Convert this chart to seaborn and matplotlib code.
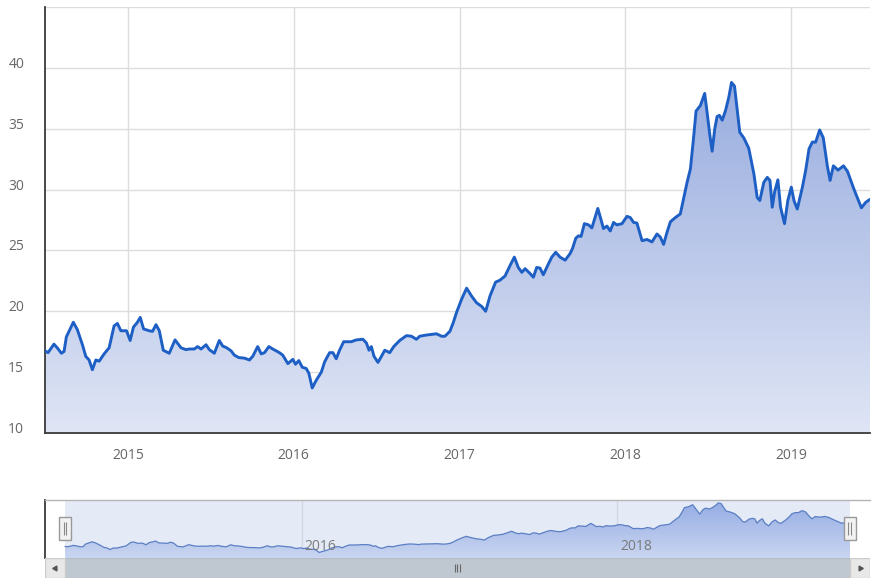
import numpy as np
import pandas as pd
import seaborn as sns
import matplotlib.pyplot as plt
import matplotlib.dates as mdates
from matplotlib.colors import to_rgb
from matplotlib.patches import Rectangle


# weekly-ish closes, x
dec_year = [
    2014.498, 2014.516, 2014.552, 2014.572, 2014.597, 2014.613, 2014.627, 2014.669, 2014.693, 2014.724,
    2014.744, 2014.764, 2014.784, 2014.805, 2014.825, 2014.855, 2014.885, 2014.915, 2014.935, 2014.956,
    2014.990,
    2015.012, 2015.032, 2015.056, 2015.073, 2015.093, 2015.127, 2015.147, 2015.168, 2015.188, 2015.212,
    2015.248, 2015.283, 2015.319, 2015.349, 2015.369, 2015.399, 2015.419, 2015.440, 2015.470, 2015.490,
    2015.520, 2015.550, 2015.570, 2015.595, 2015.621, 2015.641, 2015.667, 2015.702, 2015.732, 2015.752,
    2015.782, 2015.803, 2015.823, 2015.849, 2015.873, 2015.913, 2015.933, 2015.964, 2015.994,
    2016.010, 2016.030, 2016.051, 2016.075, 2016.091, 2016.111, 2016.136, 2016.166, 2016.186, 2016.216,
    2016.236, 2016.256, 2016.276, 2016.301, 2016.347, 2016.377, 2016.417, 2016.438, 2016.454, 2016.468,
    2016.484, 2016.508, 2016.529, 2016.549, 2016.579, 2016.603, 2016.639, 2016.680, 2016.710, 2016.740,
    2016.760, 2016.801, 2016.861, 2016.892, 2016.912, 2016.942, 2016.962, 2016.982,
    2017.013, 2017.043, 2017.073, 2017.103, 2017.134, 2017.158, 2017.184, 2017.218, 2017.244, 2017.275,
    2017.305, 2017.331, 2017.355, 2017.376, 2017.396, 2017.426, 2017.446, 2017.466, 2017.486, 2017.506,
    2017.537, 2017.557, 2017.581, 2017.607, 2017.638, 2017.668, 2017.682, 2017.702, 2017.718, 2017.734,
    2017.754, 2017.779, 2017.799, 2017.819, 2017.835, 2017.855, 2017.869, 2017.890, 2017.910, 2017.930,
    2017.950, 2017.981,
    2018.011, 2018.031, 2018.051, 2018.071, 2018.087, 2018.102, 2018.132, 2018.162, 2018.192, 2018.212,
    2018.232, 2018.253, 2018.273, 2018.303, 2018.333, 2018.353, 2018.374, 2018.394, 2018.414, 2018.428,
    2018.454, 2018.480, 2018.495, 2018.511, 2018.525, 2018.541, 2018.555, 2018.569, 2018.586, 2018.606,
    2018.626, 2018.642, 2018.660, 2018.692, 2018.716, 2018.746, 2018.777, 2018.797, 2018.813, 2018.837,
    2018.858, 2018.874, 2018.888, 2018.902, 2018.922, 2018.938, 2018.962, 2018.982,
    2019.003, 2019.019, 2019.039, 2019.070, 2019.090, 2019.110, 2019.130, 2019.150, 2019.174, 2019.196,
    2019.221, 2019.237, 2019.257, 2019.285, 2019.318, 2019.342, 2019.382, 2019.426, 2019.452, 2019.478,
]

close = [
    16.75, 16.6, 17.3, 17.0, 16.55, 16.7, 17.9, 19.1, 18.5, 17.25,
    16.3, 16.0, 15.2, 16.0, 15.9, 16.5, 17.0, 18.8, 19.0, 18.4,
    18.4,
    17.6, 18.7, 19.1, 19.5, 18.55, 18.4, 18.35, 18.9, 18.4, 16.8,
    16.55, 17.65, 17.0, 16.85, 16.9, 16.9, 17.1, 16.9, 17.25, 16.85,
    16.55, 17.6, 17.15, 17.0, 16.75, 16.4, 16.2, 16.15, 16.0, 16.3,
    17.1, 16.5, 16.6, 17.1, 16.9, 16.6, 16.4, 15.7, 16.05,
    15.65, 15.95, 15.4, 15.3, 14.9, 13.7, 14.35, 15.0, 15.85, 16.6,
    16.6, 16.1, 16.8, 17.5, 17.5, 17.65, 17.7, 17.4, 16.8, 17.1,
    16.3, 15.8, 16.3, 16.8, 16.6, 17.1, 17.6, 18.0, 17.95, 17.7,
    17.95, 18.05, 18.15, 17.95, 17.95, 18.35, 19.05, 19.9,
    21.0, 21.9, 21.25, 20.7, 20.4, 20.0, 21.25, 22.4, 22.55, 22.9,
    23.75, 24.45, 23.6, 23.2, 23.5, 23.1, 22.8, 23.6, 23.55, 23.0,
    23.9, 24.45, 24.85, 24.45, 24.2, 24.75, 25.15, 26.0, 26.2, 26.15,
    27.2, 27.1, 26.85, 27.75, 28.45, 27.5, 26.8, 27.0, 26.6, 27.3,
    27.1, 27.2,
    27.8, 27.7, 27.3, 27.25, 26.5, 25.8, 25.9, 25.7, 26.35, 26.1,
    25.5, 26.5, 27.35, 27.7, 28.0, 29.25, 30.6, 31.7, 34.4, 36.45,
    36.9, 37.9, 36.3, 34.5, 33.15, 35.0, 36.0, 36.1, 35.7, 36.5,
    37.6, 38.8, 38.5, 34.7, 34.25, 33.4, 31.3, 29.35, 29.1, 30.6,
    31.0, 30.75, 28.55, 29.8, 30.8, 28.55, 27.2, 29.1,
    30.2, 29.1, 28.4, 30.2, 31.6, 33.35, 33.9, 33.9, 34.9, 34.25,
    31.9, 30.75, 31.95, 31.6, 31.95, 31.5, 30.0, 28.5, 28.95, 29.2,
]

y_ticks = [10, 15, 20, 25, 30, 35, 40, 45]
y_labels = ["10", "15", "20", "25", "30", "35", "40", ""]
main_years = [2015, 2016, 2017, 2018, 2019]
nav_years = [2016, 2018]

LINE = "#1d5fc4"
AXIS = "#3a3a3a"
TXT = "#666666"
GRID = "#dcdcdc"

yr = np.array(dec_year)
df = pd.DataFrame({
    "date": pd.Timestamp("2015-01-01") + pd.to_timedelta((yr - 2015) * 365.25, unit="D"),
    "close": close,
})
xnum = mdates.date2num(df["date"])
d0, d1 = xnum.min(), xnum.max()

sns.set_theme(style="white")
plt.rcParams["font.family"] = ["Open Sans", "DejaVu Sans"]

W, H = 877, 584
fig = plt.figure(figsize=(W / 100, H / 100), dpi=100)


def px_axes(l, t, r, b):
    return fig.add_axes([l / W, 1 - b / H, (r - l) / W, (b - t) / H])


def gradient_fill(ax, x, y, base, top, c_top, c_bot, z=1):
    poly = ax.fill_between(x, y, base, color="none", lw=0)
    ct, cb = np.array(to_rgb(c_top)), np.array(to_rgb(c_bot))
    t = np.linspace(0, 1, 256)[:, None, None]
    img = ct * (1 - t) + cb * t
    im = ax.imshow(img, extent=[x.min(), x.max(), base, top], aspect="auto",
                   origin="upper", zorder=z, interpolation="bilinear")
    im.set_clip_path(poly.get_paths()[0], ax.transData)
    return im


#%% main chart
ax = px_axes(45, 7, 870, 433)
gradient_fill(ax, xnum, df["close"].values, 10, 45, "#8aa1da", "#dfe5f5")
sns.lineplot(data=df, x="date", y="close", ax=ax, color=LINE, lw=2.1, zorder=3)

ax.set_xlim(d0, d1)
ax.set_ylim(10, 45)
ax.set_yticks(y_ticks)
ax.set_yticklabels(y_labels)
ax.set_xticks([mdates.date2num(pd.Timestamp(f"{y}-01-01")) for y in main_years])
ax.set_xticklabels([str(y) for y in main_years])
ax.set_xlabel("")
ax.set_ylabel("")
ax.grid(True, color=GRID, lw=1)
ax.set_axisbelow(True)
for s in ["top", "right"]:
    ax.spines[s].set_visible(False)
for s in ["left", "bottom"]:
    ax.spines[s].set_color(AXIS)
    ax.spines[s].set_linewidth(1.3)
ax.tick_params(axis="y", length=10, width=1, color=AXIS, pad=5, labelsize=10, labelcolor=TXT)
ax.tick_params(axis="x", length=7, width=1, color=AXIS, pad=4, labelsize=10, labelcolor=TXT)
for t in ax.get_yticklabels():
    t.set_va("baseline")

#%% navigator
pp = (d1 - d0) / 785
nx0, nx1 = d0 - 20 * pp, d1 + 20 * pp

nav = px_axes(45, 500, 870, 558)
nav.set_xlim(nx0, nx1)
nav.set_ylim(10.9, 40.3)
nav.axvspan(d0, d1, color="#e4eaf6", zorder=0, lw=0)
for y in nav_years:
    xv = mdates.date2num(pd.Timestamp(f"{y}-01-01"))
    nav.axvline(xv, color="#d3d9e4", lw=1, zorder=0.5)
    nav.annotate(str(y), (xv, 0), xycoords=nav.get_xaxis_transform(),
                 xytext=(2, 3), textcoords="offset points",
                 ha="left", va="bottom", fontsize=10, color="#7a7a7a", zorder=4)
gradient_fill(nav, xnum, df["close"].values, 10.9, 40.3, "#93abe3", "#c9d5f1")
sns.lineplot(data=df, x="date", y="close", ax=nav, color="#5b7fc4", lw=0.9, zorder=3)
nav.set_xlim(nx0, nx1)
nav.set_xticks([])
nav.set_yticks([])
nav.set_xlabel("")
nav.set_ylabel("")
for s in ["right", "bottom"]:
    nav.spines[s].set_visible(False)
nav.spines["left"].set_color(AXIS)
nav.spines["left"].set_linewidth(1.3)
nav.spines["top"].set_color("#b5b5b5")
nav.spines["top"].set_linewidth(1)

# handles at both ends of the selected range
for xe in (d0, d1):
    nav.add_patch(Rectangle((xe - 6 * pp, 0.31), 12 * pp, 0.4,
                            transform=nav.get_xaxis_transform(),
                            fc="#f2f2f2", ec="#999999", lw=1, zorder=5, clip_on=False))
    nav.vlines([xe - 1.5 * pp, xe + 1.5 * pp], 0.4, 0.62,
               transform=nav.get_xaxis_transform(), color="#888888", lw=0.8, zorder=6)

#%% scrollbar
sb = px_axes(45, 558, 870, 578)
sb.set_xlim(nx0, nx1)
sb.set_ylim(0, 1)
sb.axis("off")
sb.add_patch(Rectangle((nx0, 0), nx1 - nx0, 1, fc="#f2f2f2", ec="#cccccc", lw=1))
sb.add_patch(Rectangle((d0, 0), d1 - d0, 1, fc="#bfc8d1", ec="#b5bcc4", lw=1))
sb.add_patch(Rectangle((nx0, 0), d0 - nx0, 1, fc="#e8e8e8", ec="#cccccc", lw=1))
sb.add_patch(Rectangle((d1, 0), nx1 - d1, 1, fc="#e8e8e8", ec="#cccccc", lw=1))
sb.plot([(nx0 + d0) / 2], [0.5], marker=(3, 0, 90), ms=4, color="#555555")
sb.plot([(nx1 + d1) / 2], [0.5], marker=(3, 0, -90), ms=4, color="#555555")
mid = (d0 + d1) / 2
sb.vlines([mid - 3 * pp, mid, mid + 3 * pp], 0.3, 0.7, color="#666666", lw=0.8)

fig.savefig("out.png", dpi=100)
